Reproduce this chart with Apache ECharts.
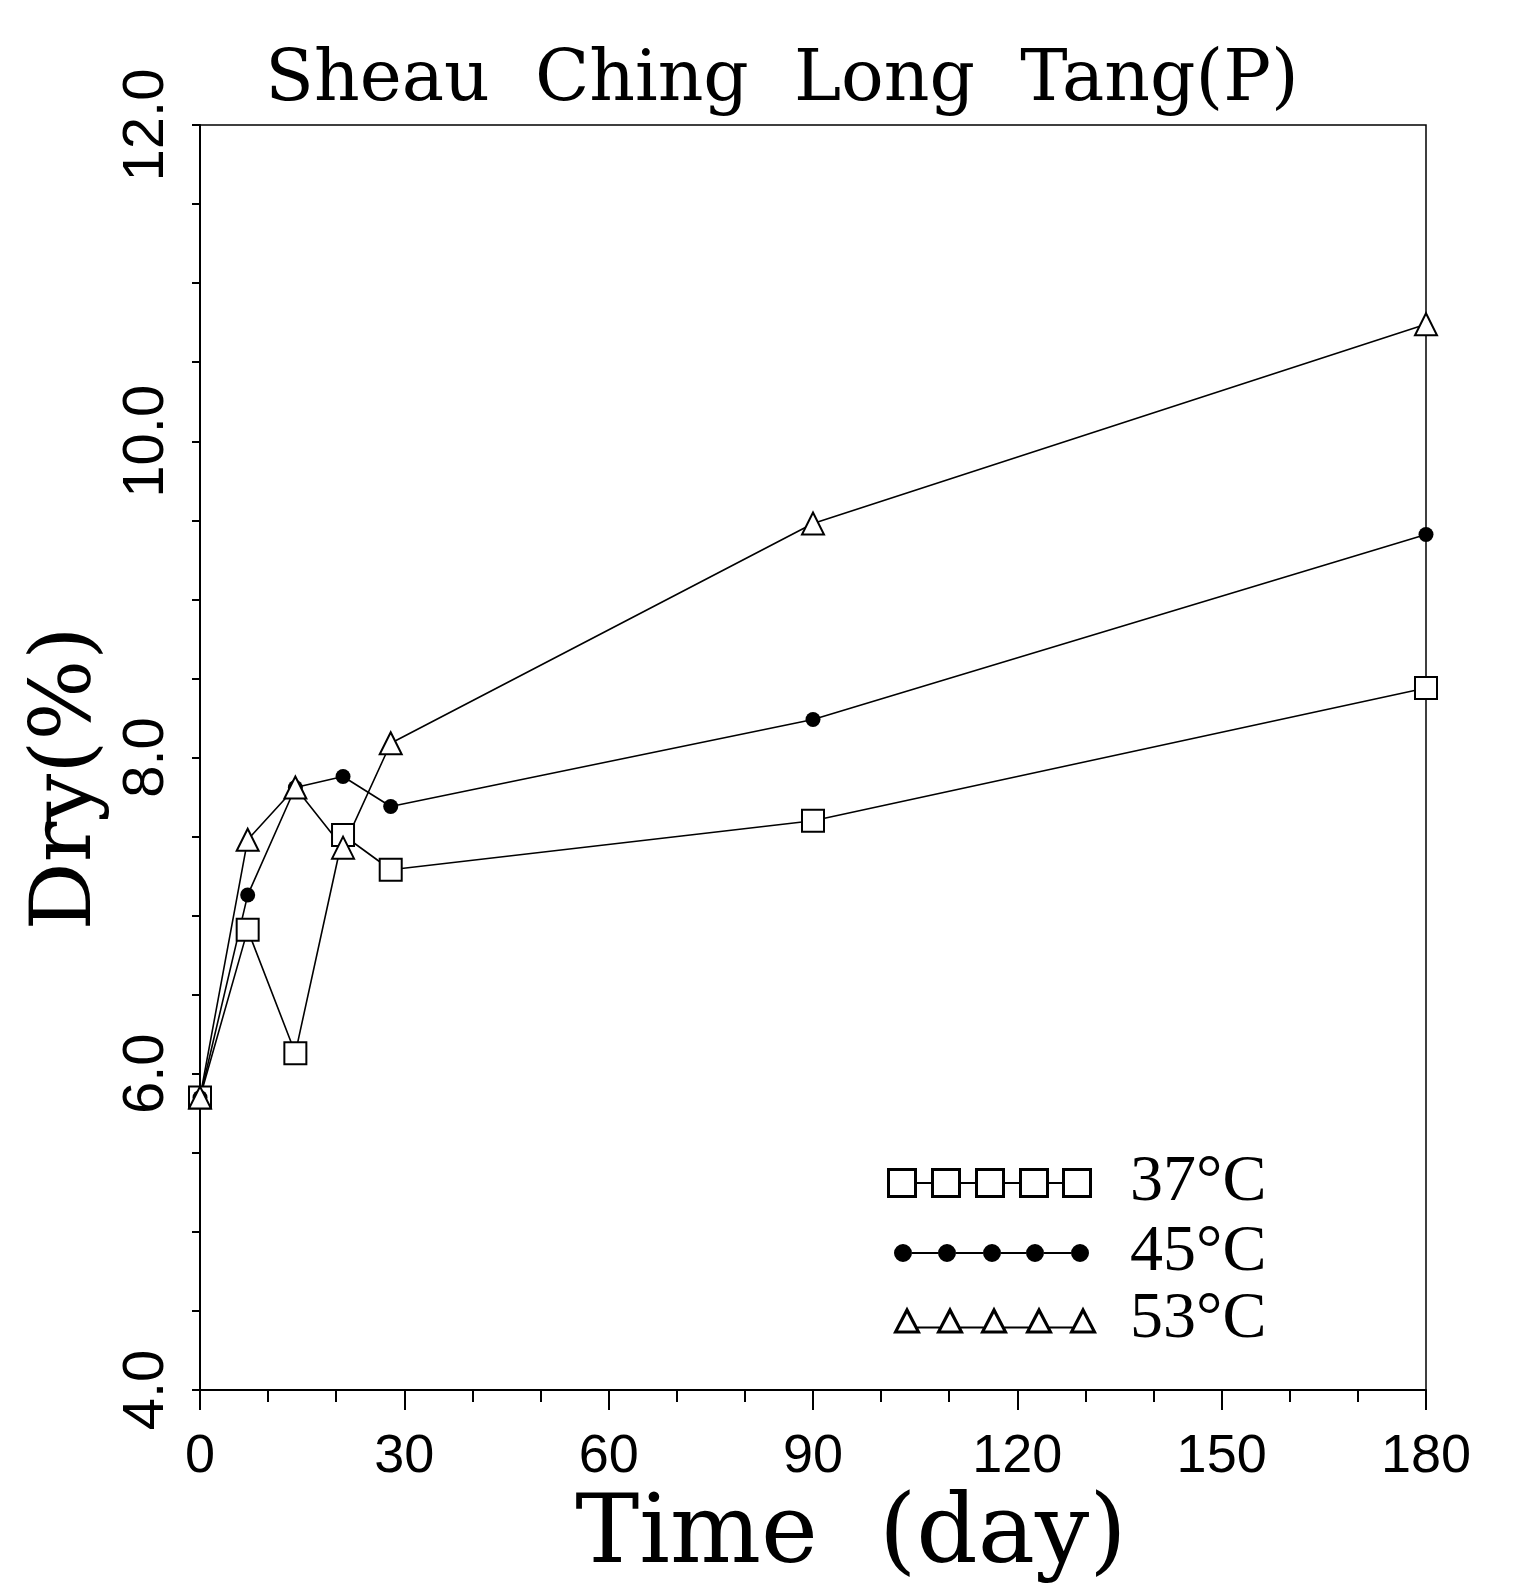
<!DOCTYPE html>
<html>
<head>
<meta charset="utf-8">
<script src="https://cdn.jsdelivr.net/npm/echarts@6/dist/echarts.min.js"></script>
<style>
html,body{margin:0;padding:0;background:#fff;}
#chart{width:1522px;height:1586px;}
</style>
</head>
<body>
<div id="chart"></div>
<script>
// ---- data ----
const titleText = 'Sheau  Ching  Long  Tang(P)';
const xName = 'Time  (day)';
const yName = 'Dry(%)';
const days = [0, 7, 14, 21, 28, 90, 180];
const dry37 = [5.85, 6.91, 6.13, 7.51, 7.29, 7.60, 8.44];
const dry45 = [5.85, 7.13, 7.81, 7.88, 7.69, 8.24, 9.41];
const dry53 = [5.85, 7.48, 7.81, 7.43, 8.09, 9.48, 10.74];
const seriesNames = ['37°C', '45°C', '53°C'];
const xTicks = [0, 30, 60, 90, 120, 150, 180];
const yTicks = [4.0, 6.0, 8.0, 10.0, 12.0];

function pairs(xs, ys) { return xs.map((x, i) => [x, ys[i]]); }

// legend icon paths (five markers joined by a line)
function squaresPath() {
  let p = '';
  const xs = [0, 44, 88, 132, 175];
  xs.forEach(x => {
    p += `M${x} 0 h30 v30 h-30 Z M${x+3} 3 v24 h24 v-24 Z `;
  });
  for (let i = 0; i < xs.length - 1; i++) {
    p += `M${xs[i]+30} 14 h${xs[i+1]-xs[i]-30} v2 h-${xs[i+1]-xs[i]-30} Z `;
  }
  return 'path://' + p;
}
function circlesPath() {
  let p = '';
  const cs = [9, 53, 98, 141, 186];
  const r = 9;
  cs.forEach(c => {
    p += `M${c-r} 9 A${r} ${r} 0 1 0 ${c+r} 9 A${r} ${r} 0 1 0 ${c-r} 9 Z `;
  });
  for (let i = 0; i < cs.length - 1; i++) {
    p += `M${cs[i]+r} 8 L${cs[i+1]-r} 8 L${cs[i+1]-r} 10 L${cs[i]+r} 10 Z `;
  }
  return 'path://' + p;
}
function trianglesPath() {
  let p = '';
  const cs = [14, 57, 101, 146, 190];
  cs.forEach(c => {
    p += `M${c-14} 27 L${c} 0 L${c+14} 27 Z M${c-9} 24 L${c+9} 24 L${c} 7 Z `;
  });
  for (let i = 0; i < cs.length - 1; i++) {
    p += `M${cs[i]+10} 20 L${cs[i+1]-10} 20 L${cs[i+1]-10} 22 L${cs[i]+10} 22 Z `;
  }
  return 'path://' + p;
}

const labelFont = '"Liberation Sans Narrow", "Liberation Sans", sans-serif';
const serifFont = '"DejaVu Serif", serif';

function legendFor(name, icon, left, top, w, h) {
  return {
    data: [{ name: name, icon: icon }],
    orient: 'vertical',
    left: left, top: top,
    itemWidth: w, itemHeight: h,
    padding: 0,
    itemStyle: { color: '#000', borderWidth: 0 },
    textStyle: {
      fontFamily: '"Liberation Serif", serif', fontSize: 66, color: '#000',
      padding: [0, 0, 0, 1130 - (left + w + 5)], lineHeight: 66
    },
    selectedMode: false
  };
}

const chart = echarts.init(document.getElementById('chart'), null, { renderer: 'canvas' });
chart.setOption({
  backgroundColor: '#fff',
  animation: false,
  title: {
    text: titleText,
    left: 782, top: 46, textAlign: 'center', padding: 0,
    textStyle: { fontFamily: serifFont, fontSize: 71, fontWeight: 'normal', color: '#000' }
  },
  legend: [
    legendFor(seriesNames[0], squaresPath(), 887, 1150, 205, 30),
    legendFor(seriesNames[1], circlesPath(), 894, 1220, 195, 18),
    legendFor(seriesNames[2], trianglesPath(), 893, 1287, 204, 27)
  ],
  grid: {
    left: 200, top: 125, width: 1226, height: 1265,
    outerBoundsMode: 'none', containLabel: false,
    show: true, borderColor: '#000', borderWidth: 1.5, backgroundColor: 'transparent'
  },
  xAxis: {
    type: 'value', min: 0, max: 180, interval: 30,
    name: xName, nameLocation: 'middle', nameGap: 98,
    nameTextStyle: { fontFamily: serifFont, fontSize: 96, color: '#000', padding: [0, 0, 0, 76] },
    axisLine: { show: true, onZero: false, lineStyle: { color: '#000', width: 2 } },
    axisTick: { show: true, inside: false, length: 20, lineStyle: { color: '#000', width: 2 } },
    minorTick: { show: true, splitNumber: 3, length: 12, lineStyle: { color: '#000', width: 2 } },
    splitLine: { show: false },
    axisLabel: {
      margin: 40, fontFamily: labelFont, fontSize: 54, color: '#000',
      formatter: v => (xTicks.indexOf(v) >= 0 ? String(v) : '')
    }
  },
  yAxis: {
    type: 'value', min: 4, max: 12, interval: 2,
    name: yName, nameLocation: 'middle', nameGap: 68, nameRotate: 90,
    nameTextStyle: { fontFamily: serifFont, fontSize: 85, color: '#000', padding: [0, 42, 0, 0] },
    axisLine: { show: true, onZero: false, lineStyle: { color: '#000', width: 2 } },
    axisTick: { show: true, inside: false, length: 8, lineStyle: { color: '#000', width: 2 } },
    minorTick: { show: true, splitNumber: 4, length: 8, lineStyle: { color: '#000', width: 2 } },
    splitLine: { show: false },
    axisLabel: {
      rotate: 90, margin: 24, fontFamily: labelFont, fontSize: 58, color: '#000',
      formatter: v => (yTicks.indexOf(v) >= 0 ? v.toFixed(1) : '')
    }
  },
  series: [
    {
      name: seriesNames[0], type: 'line', data: pairs(days, dry37),
      symbol: 'emptyRect', symbolSize: 22, clip: false,
      lineStyle: { color: '#000', width: 1.6 },
      itemStyle: { color: '#000', borderWidth: 2.5 }
    },
    {
      name: seriesNames[1], type: 'line', data: pairs(days, dry45),
      symbol: 'circle', symbolSize: 15, clip: false,
      lineStyle: { color: '#000', width: 1.6 },
      itemStyle: { color: '#000' }
    },
    {
      name: seriesNames[2], type: 'line', data: pairs(days, dry53),
      symbol: 'emptyTriangle', symbolSize: 22, clip: false,
      lineStyle: { color: '#000', width: 1.6 },
      itemStyle: { color: '#000', borderWidth: 2.5 }
    }
  ]
});
</script>
</body>
</html>
